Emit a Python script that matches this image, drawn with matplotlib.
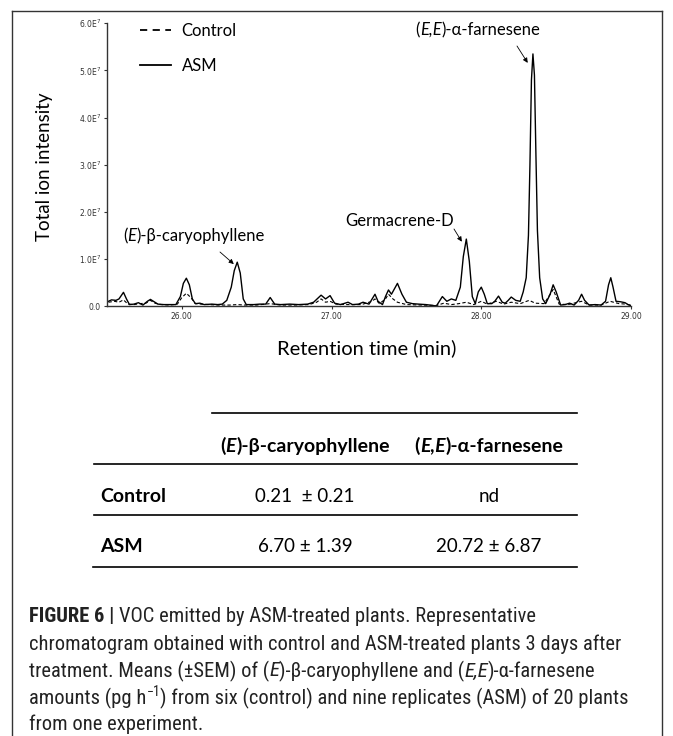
import numpy as np
import matplotlib
matplotlib.use('Agg')
import matplotlib.pyplot as plt
from matplotlib.lines import Line2D
from matplotlib import font_manager

W, H = 673, 736

# chromatogram traces (time in min, intensity in 1e7 units)
asm_time = [25.51, 25.53, 25.56, 25.58, 25.61, 25.63, 25.65, 25.68, 25.71, 25.74,
            25.77, 25.79, 25.81, 25.84, 25.88, 25.92, 25.96, 25.99, 26.01, 26.03,
            26.05, 26.07, 26.09, 26.12, 26.15, 26.20, 26.24, 26.27, 26.30, 26.33,
            26.35, 26.37, 26.39, 26.41, 26.43, 26.48, 26.52, 26.56, 26.59, 26.62,
            26.66, 26.72, 26.78, 26.84, 26.88, 26.93, 26.96, 26.99, 27.02, 27.06,
            27.11, 27.14, 27.18, 27.21, 27.25, 27.29, 27.31, 27.34, 27.36, 27.38,
            27.40, 27.44, 27.47, 27.50, 27.54, 27.58, 27.63, 27.68, 27.70, 27.72,
            27.74, 27.77, 27.80, 27.83, 27.86, 27.88, 27.90, 27.92, 27.94, 27.96,
            27.98, 28.00, 28.02, 28.04, 28.07, 28.09, 28.115, 28.14, 28.16, 28.18,
            28.20, 28.23, 28.26, 28.28, 28.30, 28.315, 28.325, 28.335, 28.345, 28.355,
            28.365, 28.375, 28.39, 28.41, 28.43, 28.46, 28.48, 28.50, 28.53, 28.56,
            28.59, 28.62, 28.65, 28.67, 28.69, 28.72, 28.76, 28.80, 28.83, 28.85,
            28.865, 28.88, 28.90, 28.93, 28.96, 28.98, 29.00]
asm_signal = [0.10, 0.13, 0.12, 0.15, 0.29, 0.15, 0.03, 0.04, 0.07, 0.02,
              0.10, 0.14, 0.10, 0.04, 0.03, 0.03, 0.03, 0.20, 0.48, 0.59,
              0.45, 0.15, 0.05, 0.06, 0.03, 0.04, 0.03, 0.04, 0.12, 0.40,
              0.75, 0.93, 0.70, 0.15, 0.03, 0.03, 0.04, 0.04, 0.18, 0.04,
              0.03, 0.04, 0.03, 0.04, 0.08, 0.23, 0.15, 0.22, 0.06, 0.03,
              0.08, 0.03, 0.04, 0.08, 0.04, 0.25, 0.10, 0.03, 0.20, 0.34,
              0.25, 0.48, 0.25, 0.08, 0.05, 0.04, 0.03, 0.01, 0.00, 0.10,
              0.20, 0.10, 0.15, 0.12, 0.40, 1.05, 1.42, 0.95, 0.20, 0.05,
              0.30, 0.40, 0.25, 0.05, 0.05, 0.10, 0.21, 0.08, 0.06, 0.12,
              0.19, 0.12, 0.10, 0.30, 0.60, 1.50, 3.00, 4.80, 5.35, 4.90,
              3.20, 1.60, 0.60, 0.15, 0.05, 0.25, 0.45, 0.30, 0.02, 0.03,
              0.06, 0.02, 0.12, 0.25, 0.12, 0.02, 0.03, 0.02, 0.10, 0.45,
              0.60, 0.40, 0.10, 0.09, 0.07, 0.03, 0.01]

ctrl_time = [25.51, 25.55, 25.58, 25.61, 25.64, 25.68, 25.72, 25.76, 25.79, 25.82,
             25.86, 25.92, 25.97, 26.00, 26.03, 26.06, 26.09, 26.13, 26.18, 26.25,
             26.32, 26.37, 26.42, 26.50, 26.59, 26.66, 26.75, 26.85, 26.90, 26.93,
             26.96, 26.99, 27.03, 27.10, 27.20, 27.27, 27.29, 27.32, 27.36, 27.38,
             27.41, 27.44, 27.50, 27.60, 27.70, 27.75, 27.80, 27.85, 27.90, 27.95,
             28.00, 28.04, 28.10, 28.15, 28.20, 28.26, 28.32, 28.36, 28.42, 28.48,
             28.52, 28.58, 28.67, 28.72, 28.80, 28.86, 28.92, 28.97, 29.00]
ctrl_signal = [0.08, 0.10, 0.08, 0.13, 0.04, 0.03, 0.05, 0.06, 0.12, 0.06,
               0.03, 0.02, 0.04, 0.18, 0.27, 0.18, 0.05, 0.04, 0.03, 0.02,
               0.02, 0.03, 0.02, 0.02, 0.05, 0.02, 0.02, 0.03, 0.08, 0.15,
               0.08, 0.10, 0.04, 0.03, 0.03, 0.10, 0.15, 0.05, 0.15, 0.25,
               0.15, 0.08, 0.03, 0.02, 0.01, 0.06, 0.03, 0.05, 0.08, 0.03,
               0.10, 0.04, 0.10, 0.04, 0.08, 0.05, 0.12, 0.06, 0.05, 0.35,
               0.04, 0.03, 0.10, 0.02, 0.02, 0.10, 0.05, 0.04, 0.01]

y_ticks = [0, 1, 2, 3, 4, 5, 6]
y_ticklabels = ['0.0', '1.0E$^7$', '2.0E$^7$', '3.0E$^7$', '4.0E$^7$', '5.0E$^7$', '6.0E$^7$']
x_ticks = [26, 27, 28, 29]
x_ticklabels = ['26.00', '27.00', '28.00', '29.00']

# peaks that get a label: (time, intensity) the arrow points at
peak_caryophyllene = (26.347, 0.89)
peak_germacrene = (27.87, 1.365)
peak_farnesene = (28.31, 5.16)

# table
row_names = ['Control', 'ASM']
caryophyllene_vals = ['0.21  \u00b1 0.21', '6.70 \u00b1 1.39']
farnesene_vals = ['nd', '20.72 \u00b1 6.87']


def pick_font(cands):
    for f in cands:
        try:
            font_manager.findfont(font_manager.FontProperties(family=f), fallback_to_default=False)
            return f
        except Exception:
            pass
    return 'DejaVu Sans'

chart_font = pick_font(['Lato', 'Open Sans'])
cap_font = pick_font(['Roboto Condensed', 'Liberation Sans Narrow', 'Roboto', 'Liberation Sans'])

fig = plt.figure(figsize=(W / 100, H / 100), dpi=100)
renderer = fig.canvas.get_renderer()


def fx(x):
    return x / W


def fy(y):
    return 1 - y / H


def advance(s, **kw):
    # width of a string including spaces (measured between two bars)
    a = fig.text(0, 0, '|' + s + '|', **kw)
    b = fig.text(0, 0, '||', **kw)
    w = a.get_window_extent(renderer).width - b.get_window_extent(renderer).width
    a.remove()
    b.remove()
    return w


def runs_text(x, y, runs, ha='left', size=11, family=None, color='black', weight='normal'):
    # draw text made of differently styled pieces, x/y in image pixels
    base = dict(fontsize=size, family=[family, 'DejaVu Sans'], color=color, weight=weight)
    pieces = []
    total = 0
    for s, extra in runs:
        kw = dict(base)
        kw.update(extra)
        dy = kw.pop('dy', 0)
        core = s.strip(' ')
        lead = len(s) - len(s.lstrip(' '))
        trail = len(s) - len(s.rstrip(' '))
        lw = advance(' ' * lead, **kw) if lead else 0
        cw = advance(core, **kw) if core else 0
        tw = advance(' ' * trail, **kw) if trail else 0
        pieces.append((core, kw, dy, lw, cw, tw))
        total += lw + cw + tw
    pen = x - total / 2 if ha == 'center' else x
    for core, kw, dy, lw, cw, tw in pieces:
        pen += lw
        if core:
            fig.text(fx(pen), fy(y - dy), core, ha='left', va='center', **kw)
        pen += cw + tw


# ---- chromatogram ----
ax = fig.add_axes([fx(107), fy(306), fx(631) - fx(107), fy(23.3) - fy(306)])
ax.plot(ctrl_time, ctrl_signal, color='black', lw=0.8, dashes=(3, 2), label='Control')
ax.plot(asm_time, asm_signal, color='black', lw=1.0, label='ASM')
ax.set_xlim(25.5, 29.0)
ax.set_ylim(0, 6)
ax.set_xticks(x_ticks)
ax.set_xticklabels(x_ticklabels)
ax.set_yticks(y_ticks)
ax.set_yticklabels(y_ticklabels)
ax.tick_params(axis='both', labelsize=5.5, length=2.5, width=0.8, pad=2, colors='#333333')
for side in ['top', 'right']:
    ax.spines[side].set_visible(False)
for side in ['left', 'bottom']:
    ax.spines[side].set_linewidth(1.0)
    ax.spines[side].set_color('#333333')

leg = ax.legend(loc='upper left', bbox_to_anchor=(fx(125), fy(8)), bbox_transform=fig.transFigure,
                frameon=False, handlelength=1.85, handletextpad=0.65, labelspacing=1.15,
                prop={'family': chart_font, 'size': 12})
for h in leg.legend_handles:
    h.set_linewidth(1.3)
leg.legend_handles[0].set_dashes((4, 3))

fig.text(fx(45), fy(167), 'Total ion intensity', rotation=90, ha='center', va='center',
         fontsize=13.5, family=chart_font)
fig.text(fx(367), fy(348), 'Retention time (min)', ha='center', va='center',
         fontsize=14.5, family=chart_font)

# peak labels and arrows
runs_text(194, 236, [('(', {}), ('E', {'style': 'italic'}), (')-\u03b2-caryophyllene', {})],
          ha='center', size=12, family=chart_font)
runs_text(400, 221, [('Germacrene-D', {})], ha='center', size=12, family=chart_font)
runs_text(478, 30, [('(', {}), ('E,E', {'style': 'italic'}), (')-\u03b1-farnesene', {})],
          ha='center', size=12, family=chart_font)

arrow = dict(arrowstyle='-|>', lw=0.6, color='black', mutation_scale=7, shrinkA=0, shrinkB=0)
ax.annotate('', xy=peak_caryophyllene, xytext=(fx(220), fy(252)), textcoords='figure fraction', arrowprops=arrow)
ax.annotate('', xy=peak_germacrene, xytext=(fx(454), fy(229)), textcoords='figure fraction', arrowprops=arrow)
ax.annotate('', xy=peak_farnesene, xytext=(fx(517), fy(46)), textcoords='figure fraction', arrowprops=arrow)

# ---- table ----
rule_y = [413, 464, 515, 567]
rule_x0 = [212, 94, 94, 93]
for y, x0 in zip(rule_y, rule_x0):
    fig.add_artist(Line2D([fx(x0), fx(577)], [fy(y), fy(y)], color='black', lw=1.2))

col_x = [305, 489]
runs_text(col_x[0], 446, [('(', {}), ('E', {'style': 'italic'}), (')-\u03b2-caryophyllene', {})],
          ha='center', size=14, family=chart_font, weight='bold')
runs_text(col_x[1], 446, [('(', {}), ('E,E', {'style': 'italic'}), (')-\u03b1-farnesene', {})],
          ha='center', size=14, family=chart_font, weight='bold')
row_y = [497, 547]
for name, cv, fv, y in zip(row_names, caryophyllene_vals, farnesene_vals, row_y):
    fig.text(fx(100), fy(y), name, ha='left', va='center', fontsize=14, family=chart_font, weight='bold')
    fig.text(fx(col_x[0]), fy(y), cv, ha='center', va='center', fontsize=13.5, family=chart_font)
    fig.text(fx(col_x[1]), fy(y), fv, ha='center', va='center', fontsize=13.5, family=chart_font)

# ---- caption ----
it = {'style': 'italic'}
cap_lines = [
    [('FIGURE 6 |', {'weight': 'bold'}), (' VOC emitted by ASM-treated plants. Representative', {})],
    [('chromatogram obtained with control and ASM-treated plants 3 days after', {})],
    [('treatment. Means (\u00b1SEM) of (', {}), ('E', it), (')-\u03b2-caryophyllene and (', {}), ('E,E', it),
     (')-\u03b1-farnesene', {})],
    [('amounts (pg h', {}), ('\u22121', {'fontsize': 10, 'dy': 6}),
     (') from six (control) and nine replicates (ASM) of 20 plants', {})],
    [('from one experiment.', {})],
]
cap_y = [617, 644, 671, 698, 724]
for runs, y in zip(cap_lines, cap_y):
    runs_text(29, y, runs, size=14.8, family=cap_font, color='#222222')

# frame around the figure
fig.add_artist(Line2D([fx(12), fx(662)], [fy(11), fy(11)], color='#333333', lw=1.0))
fig.add_artist(Line2D([fx(12), fx(12)], [fy(11), fy(736)], color='#333333', lw=1.0))
fig.add_artist(Line2D([fx(662), fx(662)], [fy(11), fy(736)], color='#333333', lw=1.0))

fig.savefig('out.png', dpi=100)
